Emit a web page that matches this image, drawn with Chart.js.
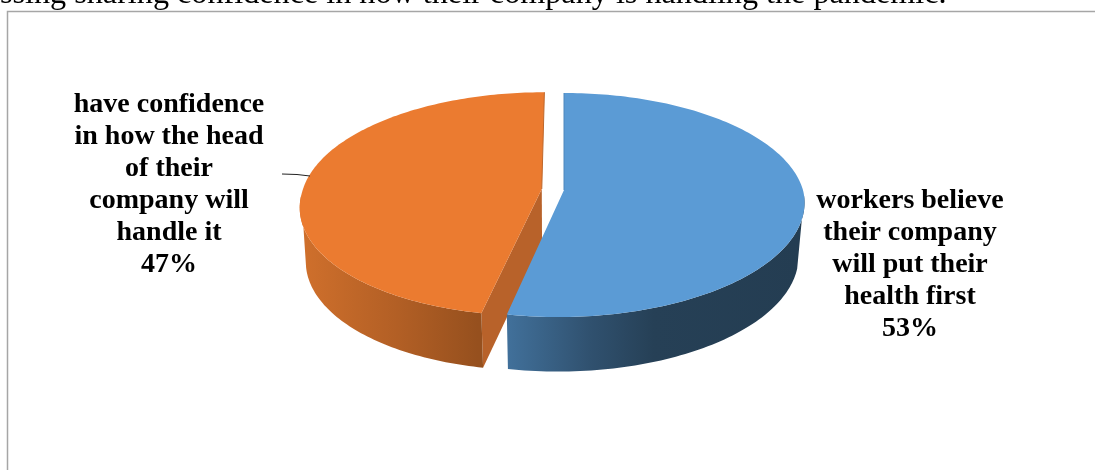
<!DOCTYPE html>
<html>
<head>
<meta charset="utf-8">
<title>Worker confidence</title>
<script src="https://cdn.jsdelivr.net/npm/chart.js@4/dist/chart.umd.min.js"></script>
<style>
  html, body { margin: 0; padding: 0; background: #fff; overflow: hidden; }
  canvas { display: block; }
</style>
</head>
<body>
<canvas id="pie" width="1095" height="470"></canvas>
<script>
const headline = 'ssing sharing confidence in how their company is handling the pandemic.';
const categories = ['workers', 'confidence'];
const shares = [53, 47];
const categoryLines = [
  ['workers believe', 'their company', 'will put their', 'health first'],
  ['have confidence', 'in how the head', 'of their', 'company will', 'handle it']
];

// tilted disc: centre, radii and how much nearer points grow
const CX = 564, CY = 190, RX = 239, RY = 110, NEAR = 0.134;
const FRONT_SHEAR = 0.045;
// lower rim of the disc
const WALL_X = 553, WALL_SCALE = 0.976, WALL_H = 54, WALL_GROW = 0.005;
const WALL_TOP_V = 0.05, WALL_BOTTOM_V = 0.2;

const TOP_COLORS = ['#5B9BD5', '#EB7B30'];
const CUT_COLOR = '#B8622A';
const BACK_EDGES = ['#4E88BD', '#BE672B'];
const LABEL_X = [910, 169];
const LABEL_Y = [208, 112];
const LINE_H = 32;

function project(u, v) {
  const w = 1 - NEAR * v;
  const y = CY + RY * v / w;
  const x = CX + RX * u / w - FRONT_SHEAR * Math.max(0, y - CY);
  return { x, y };
}

function lower(p) {
  return { x: WALL_X + (p.x - WALL_X) * WALL_SCALE, y: p.y + WALL_H + (p.y - 205) * WALL_GROW };
}

function tracePoly(ctx, pts) {
  ctx.beginPath();
  pts.forEach((p, i) => (i ? ctx.lineTo(p.x, p.y) : ctx.moveTo(p.x, p.y)));
  ctx.closePath();
}

function wallGradient(ctx, i) {
  if (i === 0) {
    const g = ctx.createLinearGradient(508, 0, 800, 0);
    g.addColorStop(0, '#41709A');
    g.addColorStop(0.28, '#30516F');
    g.addColorStop(0.5, '#264056');
    g.addColorStop(1, '#243D52');
    return g;
  }
  const g = ctx.createLinearGradient(300, 0, 478, 0);
  g.addColorStop(0, '#D0702C');
  g.addColorStop(0.55, '#B25F25');
  g.addColorStop(1, '#96501E');
  return g;
}

// draws one slice in 3D from the angles the arc element holds
function drawSlice(ctx, arc, i) {
  const mid = (arc.startAngle + arc.endAngle) / 2;
  const off = (arc.options.offset || 0) / arc.outerRadius;
  const ox = off * Math.cos(mid), oy = off * Math.sin(mid);
  const rim = [];
  const steps = 160;
  for (let s = 0; s <= steps; s++) {
    const a = arc.startAngle + (arc.endAngle - arc.startAngle) * s / steps;
    rim.push({ a, p: project(ox + Math.cos(a), oy + Math.sin(a)) });
  }
  const apex = project(ox, oy);

  // cut face that looks towards the viewer
  if (i === 1) {
    const corner = rim[0].p;
    tracePoly(ctx, [apex, corner, lower(corner), lower(apex)]);
    ctx.fillStyle = CUT_COLOR;
    ctx.fill();
  }

  const upperRim = rim.filter(r => Math.sin(r.a) >= WALL_TOP_V).map(r => r.p);
  const lowerRim = rim.filter(r => Math.sin(r.a) >= WALL_BOTTOM_V).map(r => lower(r.p));
  tracePoly(ctx, upperRim.concat(lowerRim.reverse()));
  ctx.fillStyle = wallGradient(ctx, i);
  ctx.fill();

  tracePoly(ctx, [apex].concat(rim.map(r => r.p)));
  ctx.fillStyle = TOP_COLORS[i];
  ctx.fill();

  // thin sliver of the far cut face along the straight back edge
  const backEnd = i === 0 ? rim[0].p : rim[steps].p;
  ctx.strokeStyle = BACK_EDGES[i];
  ctx.lineWidth = 1;
  ctx.beginPath();
  ctx.moveTo(apex.x, apex.y);
  ctx.lineTo(backEnd.x, backEnd.y);
  ctx.stroke();
}

const discPlugin = {
  id: 'disc',
  beforeDatasetDraw(chart) {
    const ctx = chart.ctx;
    const arcs = chart.getDatasetMeta(0).data;
    ctx.save();
    // orange sits behind the blue slice
    drawSlice(ctx, arcs[1], 1);
    drawSlice(ctx, arcs[0], 0);
    ctx.restore();
    return false;
  },
  afterDraw(chart) {
    const ctx = chart.ctx;
    ctx.save();
    ctx.strokeStyle = '#A6A6A6';
    ctx.lineWidth = 1.5;
    ctx.beginPath();
    ctx.moveTo(7.5, 470);
    ctx.lineTo(7.5, 11.5);
    ctx.lineTo(1095, 11.5);
    ctx.stroke();

    ctx.fillStyle = '#000';
    ctx.font = '32.2px "Liberation Serif"';
    ctx.textAlign = 'left';
    ctx.fillText(headline, 0, 3);

    ctx.strokeStyle = '#222';
    ctx.lineWidth = 1;
    ctx.beginPath();
    ctx.moveTo(282, 174);
    ctx.quadraticCurveTo(298, 174, 310, 176);
    ctx.stroke();

    ctx.font = 'bold 28px "Liberation Serif"';
    ctx.textAlign = 'center';
    categoryLines.forEach((lines, i) => {
      lines.concat(shares[i] + '%').forEach((line, n) => {
        ctx.fillText(line, LABEL_X[i], LABEL_Y[i] + n * LINE_H);
      });
    });
    ctx.restore();
  }
};

new Chart(document.getElementById('pie'), {
  type: 'pie',
  data: {
    labels: categories,
    datasets: [{ data: shares, backgroundColor: TOP_COLORS, borderWidth: 0, offset: [0, 21] }]
  },
  options: {
    responsive: false,
    animation: false,
    rotation: 0,
    plugins: { legend: { display: false }, tooltip: { enabled: false } }
  },
  plugins: [discPlugin]
});
</script>
</body>
</html>
